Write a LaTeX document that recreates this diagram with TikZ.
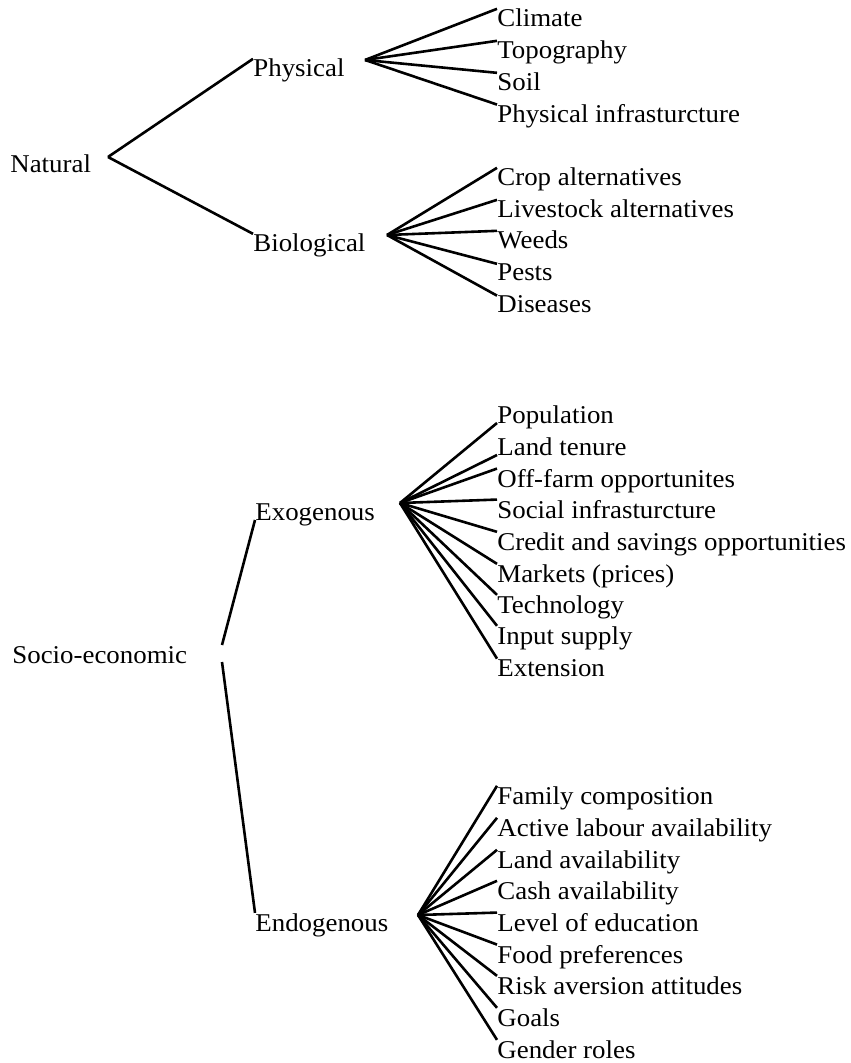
\documentclass[tikz,border=0pt]{standalone}
\usepackage{fontspec}
\setmainfont{Liberation Serif}[FakeStretch=1.05]
\usepackage{tikz}

\tikzset{
	lbl/.style={inner sep=0pt, anchor=base west, font=\fontsize{12.8}{15}\selectfont},
	twig/.style={line width=1.3pt}
}

\begin{document}
\begin{tikzpicture}[x=0.5pt, y=-0.5pt]
			\useasboundingbox (0,0) rectangle (850,1063);
			\node[lbl] (nat) at (10,173) {Natural};
			\node[lbl] (phy) at (253,77) {Physical};
			\node[lbl] (bio) at (253,252) {Biological};
			\node[lbl] (soc) at (12,663) {Socio-economic};
			\node[lbl] (exo) at (255,520) {Exogenous};
			\node[lbl] (endo) at (255,931) {Endogenous};
			\coordinate (nat-f) at (108,157);
			\coordinate (phy-f) at (365,60);
			\coordinate (bio-f) at (387,235);
			\coordinate (soc-u) at (222,645);
			\coordinate (soc-d) at (222,662);
			\coordinate (exo-f) at (400,503);
			\coordinate (endo-f) at (418,915);
			\node[lbl] (phy-1) at (497,27) {Climate};
			\node[lbl] (phy-2) at (497,59) {Topography};
			\node[lbl] (phy-3) at (497,91) {Soil};
			\node[lbl] (phy-4) at (497,123) {Physical infrasturcture};
			\node[lbl] (bio-1) at (497,186) {Crop alternatives};
			\node[lbl] (bio-2) at (497,218) {Livestock alternatives};
			\node[lbl] (bio-3) at (497,249) {Weeds};
			\node[lbl] (bio-4) at (497,281) {Pests};
			\node[lbl] (bio-5) at (497,313) {Diseases};
			\node[lbl] (exo-1) at (497,423) {Population};
			\node[lbl] (exo-2) at (497,455) {Land tenure};
			\node[lbl] (exo-3) at (497,487) {Off-farm opportunites};
			\node[lbl] (exo-4) at (497,518) {Social infrasturcture};
			\node[lbl] (exo-5) at (497,550) {Credit and savings opportunities};
			\node[lbl] (exo-6) at (497,582) {Markets (prices)};
			\node[lbl] (exo-7) at (497,613) {Technology};
			\node[lbl] (exo-8) at (497,644) {Input supply};
			\node[lbl] (exo-9) at (497,676) {Extension};
			\node[lbl] (endo-1) at (497,804) {Family composition};
			\node[lbl] (endo-2) at (497,836) {Active labour availability};
			\node[lbl] (endo-3) at (497,868) {Land availability};
			\node[lbl] (endo-4) at (497,899) {Cash availability};
			\node[lbl] (endo-5) at (497,931) {Level of education};
			\node[lbl] (endo-6) at (497,963) {Food preferences};
			\node[lbl] (endo-7) at (497,994) {Risk aversion attitudes};
			\node[lbl] (endo-8) at (497,1026) {Goals};
			\node[lbl] (endo-9) at (497,1058) {Gender roles};
			\path[twig]
			(nat-f) edge (phy.north west) edge (bio.north west)
			(soc-u) edge (exo.base west)
			(soc-d) edge (endo.north west)
			(phy-f) edge (phy-1.north west) edge (phy-2.north west) edge (phy-3.north west) edge (phy-4.north west)
			(bio-f) edge (bio-1.north west) edge (bio-2.north west) edge (bio-3.north west) edge (bio-4.north west) edge (bio-5.north west)
			(exo-f) edge (exo-1.base west) edge (exo-2.base west) edge (exo-3.north west) edge (exo-4.north west) edge (exo-5.north west)
			edge (exo-6.north west) edge (exo-7.north west) edge (exo-8.north west) edge (exo-9.north west)
			(endo-f) edge (endo-1.north west) edge (endo-2.north west) edge (endo-3.north west) edge (endo-4.north west) edge (endo-5.north west)
			edge (endo-6.north west) edge (endo-7.north west) edge (endo-8.north west) edge (endo-9.north west);
		\end{tikzpicture}
\end{document}
